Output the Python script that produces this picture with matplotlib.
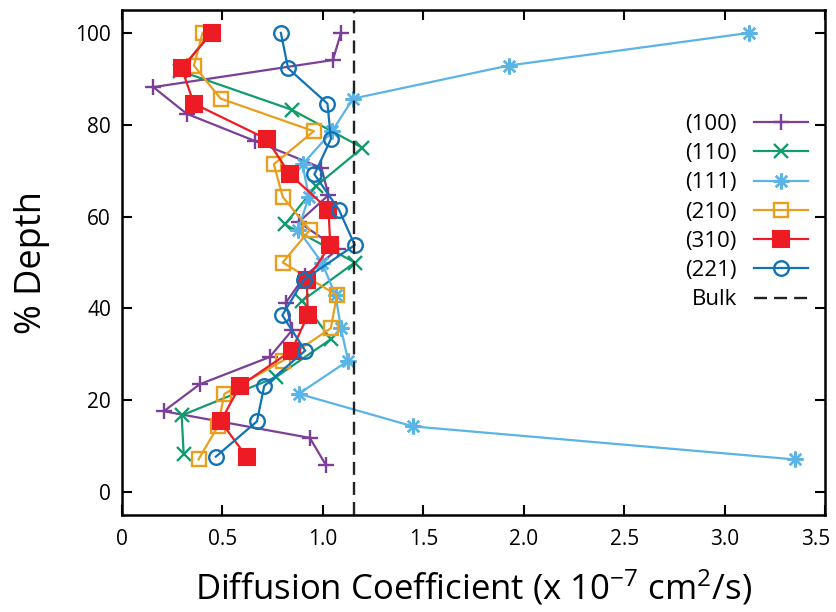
import matplotlib
matplotlib.use("Agg")
import matplotlib.pyplot as plt
from matplotlib.transforms import ScaledTranslation

# Depth positions (% of film depth) for each orientation
depth_100 = [100, 94.1, 88.2, 82.4, 76.5, 70.6, 64.7, 58.8, 52.9, 47.1,
             41.2, 35.3, 29.4, 23.5, 17.6, 11.8, 5.9]
depth_110 = [100, 91.7, 83.3, 75.0, 66.7, 58.3, 50.0, 41.7, 33.3, 25.0,
             16.7, 8.3]
depth_111 = [100, 92.9, 85.7, 78.6, 71.4, 64.3, 57.1, 50.0, 42.9, 35.7,
             28.6, 21.4, 14.3, 7.1]
depth_210 = depth_111
depth_310 = [100, 92.3, 84.6, 76.9, 69.2, 61.5, 53.8, 46.2, 38.5, 30.8,
             23.1, 15.4, 7.7]
depth_221 = depth_310

# Diffusion coefficients (x 1e-7 cm^2/s)
diff_100 = [1.09, 1.05, 0.156, 0.322, 0.66, 0.993, 1.028, 0.88, 1.076, 0.91,
            0.815, 0.848, 0.735, 0.388, 0.208, 0.935, 1.015]
diff_110 = [0.44, 0.29, 0.844, 1.197, 0.968, 0.811, 1.159, 0.898, 1.04, 0.765,
            0.297, 0.307]
diff_111 = [3.12, 1.925, 1.15, 1.046, 0.899, 0.93, 0.877, 0.995, 1.063, 1.09,
            1.126, 0.88, 1.449, 3.35]
diff_210 = [0.401, 0.358, 0.491, 0.955, 0.756, 0.80, 0.935, 0.80, 1.07, 1.04,
            0.80, 0.51, 0.477, 0.381]
diff_310 = [0.447, 0.297, 0.358, 0.72, 0.836, 1.028, 1.037, 0.92, 0.925, 0.844,
            0.587, 0.491, 0.62]
diff_221 = [0.791, 0.827, 1.023, 1.04, 0.958, 1.08, 1.159, 0.904, 0.798, 0.912,
            0.708, 0.672, 0.467]

bulk_value = 1.155

labels = ["(100)", "(110)", "(111)", "(210)", "(310)", "(221)"]
colors = ["#7b3f98", "#129b6f", "#5ab4e5", "#e89f1e", "#ed1c24", "#1172b6"]

xtick_values = [0, 0.5, 1.0, 1.5, 2.0, 2.5, 3.0, 3.5]
xtick_labels = ["0", "0.5", "1.0", "1.5", "2.0", "2.5", "3.0", "3.5"]
ytick_values = [0, 20, 40, 60, 80, 100]

plt.rcParams["font.family"] = ["Open Sans", "DejaVu Sans"]
plt.rcParams["mathtext.fontset"] = "custom"
plt.rcParams["mathtext.rm"] = "Open Sans"
plt.rcParams["mathtext.it"] = "Open Sans:italic"

fig = plt.figure(figsize=(8.37, 6.12), dpi=100)
ax = fig.add_axes([122 / 837, 1 - 515 / 612, (825 - 122) / 837, (515 - 10) / 612])

series = [
    (diff_100, depth_100, dict(marker="+", ms=11, mew=1.7)),
    (diff_110, depth_110, dict(marker="x", ms=9.5, mew=1.7)),
    (diff_111, depth_111, dict(marker=(8, 2, 0), ms=11.5, mew=1.7)),
    (diff_210, depth_210, dict(marker="s", ms=10.5, mew=1.7, mfc="none")),
    (diff_310, depth_310, dict(marker="s", ms=11, mew=1.5)),
    (diff_221, depth_221, dict(marker="o", ms=10.5, mew=1.7, mfc="none")),
]

for (xs, ys, style), lab, col in zip(series, labels, colors):
    ax.plot(xs, ys, color=col, lw=1.6, label=lab, mec=col,
            **({"mfc": col} | style))

ax.axvline(bulk_value, color="#222222", lw=1.7, ls=(0, (5.5, 3)), label="Bulk")

ax.set_xlim(0, 3.5)
ax.set_ylim(-5, 105)
ax.set_xticks(xtick_values)
ax.set_xticklabels(xtick_labels)
ax.set_yticks(ytick_values)

ax.tick_params(direction="in", length=7, width=1.5, top=True, right=True,
               labelsize=15)
ax.tick_params(axis="x", pad=10)
ax.tick_params(axis="y", pad=8)
for t in ax.get_xticklabels() + ax.get_yticklabels():
    t.set_family(["Open Sans", "DejaVu Sans"])
# keep the last x label inside the canvas
last = ax.get_xticklabels()[-1]
last.set_transform(last.get_transform() + ScaledTranslation(-7 / 72, 0, fig.dpi_scale_trans))

for sp in ax.spines.values():
    sp.set_linewidth(1.8)

ax.set_xlabel("Diffusion Coefficient (x 10$^{-7}$ cm$^{2}$/s)", fontsize=25,
              labelpad=13)
ax.set_ylabel("% Depth", fontsize=26, labelpad=18)

leg = ax.legend(loc="upper right", bbox_to_anchor=(808 / 837, 1 - 114 / 612),
                bbox_transform=fig.transFigure, frameon=False, markerfirst=False,
                fontsize=16, handlelength=2.45, handletextpad=0.75,
                labelspacing=0.37, borderpad=0, borderaxespad=0)
for t in leg.get_texts():
    t.set_ha("right")

fig.savefig("out.png", dpi=100)
